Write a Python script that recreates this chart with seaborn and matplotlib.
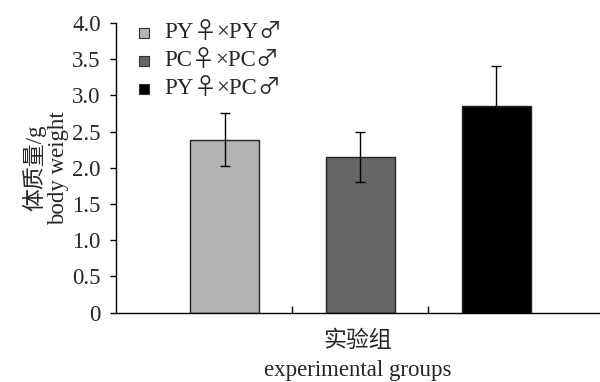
import numpy as np
import pandas as pd
import matplotlib
matplotlib.use("Agg")
import matplotlib.pyplot as plt
import seaborn as sns
from matplotlib.ticker import FuncFormatter
from matplotlib.offsetbox import (AnchoredOffsetbox, DrawingArea, HPacker,
                                  TextArea, VPacker)
from matplotlib.patches import Rectangle

# data
groups = ["PY♀×PY♂", "PC♀×PC♂", "PY♀×PC♂"]
weights = [2.39, 2.15, 2.86]
errors = [0.37, 0.35, 0.55]
bar_colors = ["#b3b3b3", "#666666", "#000000"]
yticks = [0, 0.5, 1.0, 1.5, 2.0, 2.5, 3.0, 3.5, 4.0]

df = pd.DataFrame({"group": groups, "weight": weights, "err": errors})

sns.set_style("ticks")
fonts = ["Liberation Serif", "Noto Sans CJK SC", "DejaVu Serif"]
plt.rcParams["font.family"] = fonts
fs = 16.5
plt.rcParams["font.size"] = fs

fig = plt.figure(figsize=(6, 3.82), dpi=100)
ax = fig.add_axes([0.1933, 0.1814, 0.8067, 0.7584])

sns.barplot(data=df, x="group", y="weight", hue="group", palette=bar_colors,
            width=0.507, edgecolor="#222222", linewidth=1.0, dodge=False,
            legend=False, ax=ax)

# error bars
ax.errorbar(np.arange(len(groups)), df["weight"], yerr=df["err"], fmt="none",
            ecolor="black", elinewidth=1.0, capsize=3.5, capthick=1.0)

ax.set_xlim(-0.8, 2.765)
ax.set_ylim(0, 4.0)
ax.set_yticks(yticks)
ax.yaxis.set_major_formatter(FuncFormatter(lambda v, p: "0" if v == 0 else f"{v:.1f}"))
ax.set_xticks([0.5, 1.5])
ax.set_xticklabels(["", ""])
ax.tick_params(axis="x", direction="in", length=5, width=1, color="black")
ax.tick_params(axis="y", direction="out", length=4, width=1, color="black",
               labelsize=fs, pad=7)

for s in ["top", "right"]:
    ax.spines[s].set_visible(False)
for s in ["left", "bottom"]:
    ax.spines[s].set_color("black")
    ax.spines[s].set_linewidth(1.0)

ax.set_xlabel("实验组\nexperimental groups", fontsize=fs, linespacing=1.5, labelpad=9)
ax.set_ylabel("体质量/g\nbody weight", fontsize=fs, linespacing=1.15, labelpad=2)

# legend built by hand so the ♀/♂ signs come from the CJK font (larger glyphs)
serif = dict(fontsize=fs, family="Liberation Serif")
sym = dict(fontsize=fs, family="Noto Sans CJK SC", fontweight="light")
rows = []
for name, col in zip(groups, bar_colors):
    left, rest = name.split("♀")
    mid = rest.rstrip("♂")
    box = DrawingArea(18, 7, 0, -3)
    box.add_artist(Rectangle((0, 0), 7, 7, facecolor=col, edgecolor="#333333", lw=0.8))
    parts = [box,
             TextArea(left, textprops=serif),
             TextArea("♀", textprops=sym),
             TextArea(mid, textprops=serif),
             TextArea("♂", textprops=sym)]
    rows.append(HPacker(children=parts, align="baseline", pad=0, sep=0))
legend_box = VPacker(children=rows, align="left", pad=0, sep=3.6)
anchored = AnchoredOffsetbox(loc="upper left", child=legend_box, pad=0, borderpad=0,
                             bbox_to_anchor=(0.048, 1.01), bbox_transform=ax.transAxes,
                             frameon=False)
ax.add_artist(anchored)

fig.savefig("out.png", dpi=100)
